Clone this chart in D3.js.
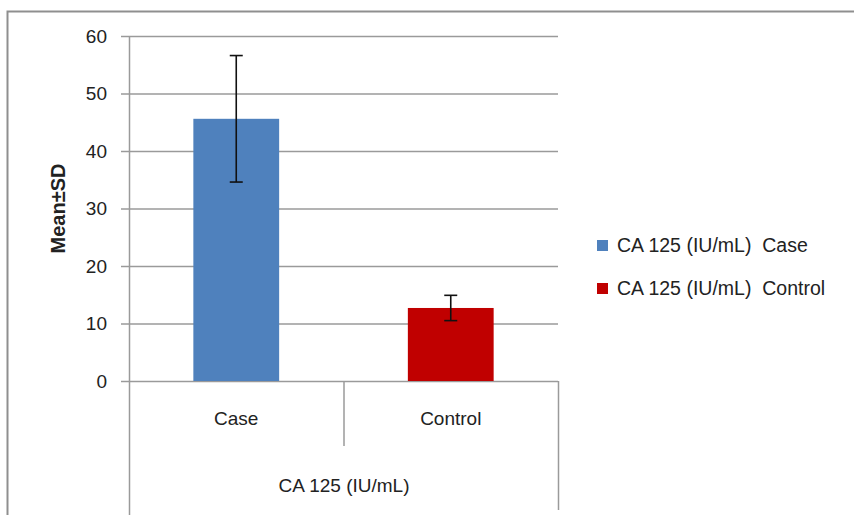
<!DOCTYPE html>
<html><head><meta charset="utf-8">
<script src="https://cdn.jsdelivr.net/npm/d3@7"></script>
<style>body{margin:0;background:#fff}svg{display:block}text{font-family:"Liberation Sans",Arial,sans-serif;fill:#222}</style>
</head><body><svg id="c" width="854" height="515"></svg>
<script>
const categories = ["Case", "Control"];
const means = [45.6, 12.7];
const sds = [11.0, 2.2];
const seriesNames = ["CA 125 (IU/mL)  Case", "CA 125 (IU/mL)  Control"];
const colors = ["#4F81BD", "#C00000"];
const yTicks = [0, 10, 20, 30, 40, 50, 60];
const groupLabel = "CA 125 (IU/mL)";
const yTitle = "Mean±SD";

const svg = d3.select("#c");
const fs = 19;
// outer frame
svg.append("rect").attr("x", 7.5).attr("y", 11.5).attr("width", 900).attr("height", 600)
  .attr("fill", "none").attr("stroke", "#8f8f8f").attr("stroke-width", 2);

const x0 = 129, x1 = 558, yTop = 36, yBot = 381;
const y = d3.scaleLinear().domain([0, 60]).range([yBot, yTop]);
const x = d3.scaleBand().domain(categories).range([x0, x1]).padding(0);

// gridlines
svg.append("g").selectAll("line").data(yTicks).join("line")
  .attr("x1", x0 - 8).attr("x2", x1).attr("y1", d => y(d) + 0.5).attr("y2", d => y(d) + 0.5)
  .attr("stroke", "#9a9a9a").attr("stroke-width", 1.5);
// tick labels
svg.append("g").selectAll("text").data(yTicks).join("text")
  .attr("x", x0 - 22).attr("y", d => y(d)).attr("dy", "0.35em").attr("text-anchor", "end")
  .attr("font-size", fs).text(d => d);
// y axis line
svg.append("line").attr("x1", x0 + 0.5).attr("x2", x0 + 0.5).attr("y1", yTop).attr("y2", 515)
  .attr("stroke", "#9a9a9a").attr("stroke-width", 1.5);
// category separators
svg.append("line").attr("x1", x("Control") + 0.5).attr("x2", x("Control") + 0.5).attr("y1", yBot).attr("y2", 446)
  .attr("stroke", "#9a9a9a").attr("stroke-width", 1.5);
svg.append("line").attr("x1", x1 + 0.5).attr("x2", x1 + 0.5).attr("y1", yBot).attr("y2", 510)
  .attr("stroke", "#9a9a9a").attr("stroke-width", 1.5);

// bars
const bw = x.bandwidth() * 0.4;
const data = categories.map((c, i) => ({c, m: means[i], sd: sds[i], col: colors[i]}));
svg.append("g").selectAll("rect").data(data).join("rect")
  .attr("x", d => x(d.c) + x.bandwidth() / 2 - bw / 2).attr("width", bw)
  .attr("y", d => y(d.m)).attr("height", d => y(0) - y(d.m)).attr("fill", d => d.col);

// error bars
const eb = svg.append("g").attr("stroke", "#111").attr("stroke-width", 1.6);
data.forEach(d => {
  const cx = x(d.c) + x.bandwidth() / 2;
  eb.append("line").attr("x1", cx).attr("x2", cx).attr("y1", y(d.m + d.sd)).attr("y2", y(d.m - d.sd));
  [d.m + d.sd, d.m - d.sd].forEach(v => eb.append("line").attr("x1", cx - 6.5).attr("x2", cx + 6.5).attr("y1", y(v)).attr("y2", y(v)));
});

// category labels
svg.append("g").selectAll("text").data(categories).join("text")
  .attr("x", d => x(d) + x.bandwidth() / 2).attr("y", 418).attr("dy", "0.35em").attr("text-anchor", "middle")
  .attr("font-size", fs).text(d => d);
svg.append("text").attr("x", (x0 + x1) / 2 + 0.5).attr("y", 485).attr("dy", "0.35em").attr("text-anchor", "middle")
  .attr("font-size", fs).text(groupLabel);

// y title
svg.append("text").attr("transform", `translate(58,${(yTop + yBot) / 2}) rotate(-90)`)
  .attr("dy", "0.35em").attr("text-anchor", "middle").attr("font-size", 20).attr("font-weight", "bold").text(yTitle);

// legend
const lg = svg.append("g");
seriesNames.forEach((n, i) => {
  const ly = 245.5 + i * 43;
  lg.append("rect").attr("x", 597).attr("y", ly - 5.5).attr("width", 11).attr("height", 11).attr("fill", colors[i]);
  lg.append("text").attr("x", 617).attr("y", ly).attr("dy", "0.35em").attr("font-size", 19.5)
    .attr("xml:space", "preserve").style("white-space", "pre").text(n);
});
</script></body></html>
